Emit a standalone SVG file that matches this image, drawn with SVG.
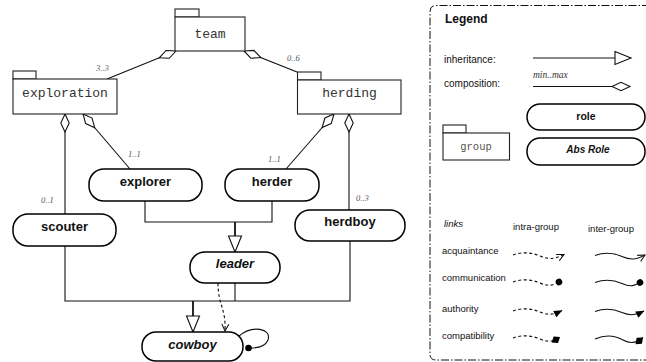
<svg xmlns="http://www.w3.org/2000/svg" width="646" height="362" viewBox="0 0 646 362">
<style>
.pkg{fill:#fff;stroke:#222;stroke-width:1.1}
.pkgt{font-family:"Liberation Mono",monospace;font-size:13px;fill:#333;text-anchor:middle}
.role{fill:#fff;stroke:#000;stroke-width:1.5}
.rt{font-family:"Liberation Sans",Arial,sans-serif;font-size:13px;font-weight:bold;fill:#111;text-anchor:middle}
.abs{font-style:italic}
.card{font-family:"Liberation Serif",serif;font-style:italic;font-size:8.5px;fill:#555}
.ln{fill:none;stroke:#111;stroke-width:1.1}
.stem{fill:none;stroke:#111;stroke-width:1.8}
.lt{font-family:"Liberation Sans",Arial,sans-serif;font-size:10px;fill:#111}
.lt2{font-family:"Liberation Sans",Arial,sans-serif;font-size:9.5px;fill:#111}
.dash{fill:none;stroke:#111;stroke-width:1.1;stroke-dasharray:3 2.5}
.wave{fill:none;stroke:#111;stroke-width:1.1}
</style>
<defs>
<marker id="inh" markerUnits="userSpaceOnUse" markerWidth="18" markerHeight="16" refX="16" refY="7" orient="auto" overflow="visible">
<path d="M0,0.5 L16,7 L0,13.5 Z" fill="#fff" stroke="#111" stroke-width="1.1"/>
</marker>
<marker id="dia" markerUnits="userSpaceOnUse" markerWidth="20" markerHeight="10" refX="0" refY="5" orient="auto" overflow="visible">
<path d="M0,5 L9,0.8 L18,5 L9,9.2 Z" fill="#fff" stroke="#111" stroke-width="1.1"/>
</marker>
<marker id="open" markerUnits="userSpaceOnUse" markerWidth="9" markerHeight="8" refX="7" refY="3.5" orient="auto" overflow="visible">
<path d="M0,0 L7,3.5 L0,7" fill="none" stroke="#111" stroke-width="1.1"/>
</marker>
<marker id="dot" markerUnits="userSpaceOnUse" markerWidth="8" markerHeight="8" refX="3" refY="3.5" orient="auto" overflow="visible">
<circle cx="3" cy="3.5" r="3.3" fill="#000"/>
</marker>
<marker id="tri" markerUnits="userSpaceOnUse" markerWidth="10" markerHeight="8" refX="8" refY="3.5" orient="auto" overflow="visible">
<path d="M0,0 L8.5,3.5 L0,7 Z" fill="#000"/>
</marker>
<marker id="fdia" markerUnits="userSpaceOnUse" markerWidth="12" markerHeight="10" refX="10" refY="4" orient="auto" overflow="visible">
<path d="M0,4 L5,0 L10,4 L5,8 Z" fill="#000"/>
</marker>
</defs>
<rect width="646" height="362" fill="#fff"/>

<g id="connectors">
<path class="ln" d="M176,51 L107,79" marker-start="url(#dia)"/>
<path class="ln" d="M244,51 L297,72" marker-start="url(#dia)"/>
<path class="ln" d="M65,114 L65,214" marker-start="url(#dia)"/>
<path class="ln" d="M83,114 L130,169" marker-start="url(#dia)"/>
<path class="ln" d="M334,114 L286,169" marker-start="url(#dia)"/>
<path class="ln" d="M349,114 L349,210" marker-start="url(#dia)"/>
<path class="ln" d="M145,201 V222 H272 V201"/>
<path class="stem" d="M235,222 V252" marker-end="url(#inh)"/>
<path class="ln" d="M65,246 V301 H350 V241"/>
<path class="ln" d="M235,283 V301"/>
<path class="stem" d="M193,301 V332" marker-end="url(#inh)"/>
<path class="dash" d="M218,283 C218,305 226,308 225,331" marker-end="url(#open)"/>
<path class="ln" d="M239,336 C252,325 272,328 268,340 C265,347 257,348 251,348"/>
<circle cx="248.5" cy="348" r="3.3" fill="#000"/>
<text class="card" x="96" y="71">3..3</text>
<text class="card" x="287" y="61">0..6</text>
<text class="card" x="128" y="157">1..1</text>
<text class="card" x="41" y="203">0..1</text>
<text class="card" x="268" y="162">1..1</text>
<text class="card" x="356" y="201">0..3</text>
</g>

<g id="team">
<rect class="pkg" x="175" y="9" width="24" height="8"/>
<rect class="pkg" x="175" y="17" width="70" height="34"/>
<text class="pkgt" x="210" y="38">team</text>
</g>
<g id="exploration">
<rect class="pkg" x="13" y="71" width="23" height="8"/>
<rect class="pkg" x="13" y="79" width="104" height="35"/>
<text class="pkgt" x="65" y="97">exploration</text>
</g>
<g id="herding">
<rect class="pkg" x="297.5" y="72" width="23.5" height="8"/>
<rect class="pkg" x="297.5" y="80" width="103.5" height="34"/>
<text class="pkgt" x="349.5" y="97">herding</text>
</g>

<g id="explorer">
<rect class="role" x="89" y="169" width="113" height="32" rx="15"/>
<text class="rt" x="145.5" y="186">explorer</text>
</g>
<g id="herder">
<rect class="role" x="225" y="169" width="94" height="32" rx="15"/>
<text class="rt" x="272" y="186">herder</text>
</g>
<g id="scouter">
<rect class="role" x="13" y="214" width="103" height="32" rx="15"/>
<text class="rt" x="64.5" y="231">scouter</text>
</g>
<g id="herdboy">
<rect class="role" x="295" y="210" width="110" height="31" rx="15"/>
<text class="rt" x="350" y="226">herdboy</text>
</g>
<g id="leader">
<rect class="role" x="190" y="252" width="90" height="31" rx="15"/>
<text class="rt abs" x="235" y="268">leader</text>
</g>
<g id="cowboy">
<rect class="role" x="142" y="332" width="101" height="29" rx="14"/>
<text class="rt abs" x="192.5" y="348.5">cowboy</text>
</g>

<g id="legend">
<path d="M650,5.5 H436 Q430,5.5 430,11.5 V354 Q430,360 436,360 H650" fill="none" stroke="#111" stroke-width="1" stroke-dasharray="8 2 1.5 2"/>
<text x="445" y="23" font-family="Liberation Sans,Arial,sans-serif" font-size="12" font-weight="bold" fill="#111">Legend</text>
<text class="lt" x="444" y="63">inheritance:</text>
<path class="ln" d="M533,58 H631" marker-end="url(#inh)"/>
<text class="lt" x="444" y="87">composition:</text>
<text x="533" y="77.5" font-family="Liberation Serif,serif" font-style="italic" font-size="9.5" fill="#333">min..max</text>
<path class="ln" d="M630,86.5 H533" marker-start="url(#dia)"/>
<rect class="role" x="527" y="104" width="118" height="26" rx="13"/>
<text class="rt" x="586" y="120" style="font-size:10.5px">role</text>
<rect class="role" x="527" y="138" width="118" height="27" rx="13"/>
<text class="rt abs" x="588" y="153" style="font-size:10px">Abs Role</text>
<rect class="pkg" x="443" y="125" width="23" height="8"/>
<rect class="pkg" x="443" y="133" width="66.5" height="27"/>
<text class="pkgt" x="476" y="149.5" style="font-size:10.5px;fill:#555">group</text>

<text class="lt2" x="444" y="227" font-style="italic">links</text>
<text class="lt2" x="513" y="229.5">intra-group</text>
<text class="lt2" x="588" y="231.5">inter-group</text>
<text class="lt2" x="442" y="254">acquaintance</text>
<text class="lt2" x="442" y="281">communication</text>
<text class="lt2" x="442" y="311.5">authority</text>
<text class="lt2" x="442" y="338.5">compatibility</text>

<path class="dash" d="M513,255 c8,-3 18,-3 27,1 s15,3 24,-1.5" marker-end="url(#open)"/>
<path class="wave" d="M595,255.5 c8,-3 18,-3 27,1 s15,3 23,-1.5" marker-end="url(#open)"/>
<path class="dash" d="M513,282 c8,-3 18,-3 27,1 s13,2 19,-1" marker-end="url(#dot)"/>
<path class="wave" d="M595,282.5 c8,-3 18,-3 27,1 s13,2 18,-1" marker-end="url(#dot)"/>
<path class="dash" d="M513,311 c8,-3 18,-3 27,1 s15,2 22,-1.5" marker-end="url(#tri)"/>
<path class="wave" d="M595,311.5 c8,-3 18,-3 27,1 s15,2 22,-1.5" marker-end="url(#tri)"/>
<path class="dash" d="M513,338 c8,-3 18,-3 27,1 s14,2 20,-2" marker-end="url(#fdia)"/>
<path class="wave" d="M595,339 c9,-4 19,-4 28,1 s15,2 20,-2.5" marker-end="url(#fdia)"/>
</g>
</svg>
